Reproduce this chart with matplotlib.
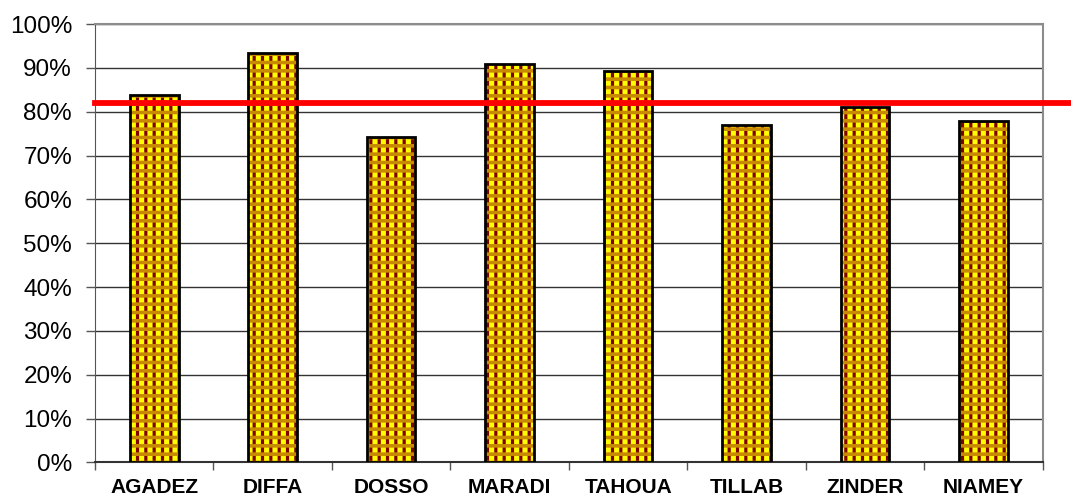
import matplotlib.pyplot as plt
import numpy as np

plt.rcParams['font.family'] = ['Liberation Sans', 'DejaVu Sans']

regions = ['AGADEZ', 'DIFFA', 'DOSSO', 'MARADI', 'TAHOUA', 'TILLAB', 'ZINDER', 'NIAMEY']
values = [83.9, 93.3, 74.2, 91.0, 89.2, 77.0, 81.0, 77.9]
national = 81.9
yticks = list(range(0, 101, 10))

fig = plt.figure(figsize=(10.71, 5.01), dpi=100)
ax = fig.add_axes([0.0887, 0.077, 0.885, 0.875])

x = np.arange(len(regions))
w = 0.41

# motif damier: fond jaune, rayures verticales bordeaux, bandes horizontales orange
plt.rcParams['hatch.linewidth'] = 2.3
ax.bar(x, values, w, color='#FFFF00', edgecolor='#800000', hatch='||', linewidth=0, zorder=2)
plt.rcParams['hatch.linewidth'] = 2.6
ax.bar(x, values, w, fill=False, edgecolor='#C88A00', hatch='--', linewidth=0, zorder=3)
ax.bar(x, values, w, fill=False, edgecolor='black', linewidth=2, zorder=4)

# ligne moyenne
ax.axhline(national, xmin=0, xmax=1.03, color='#FF0000', linewidth=4.2, clip_on=False, zorder=5)

ax.set_xlim(-0.5, len(regions) - 0.5)
ax.set_ylim(0, 100)
ax.set_yticks(yticks)
ax.set_yticklabels([f'{t}%' for t in yticks], fontsize=17.5)
ax.set_xticks(x)
ax.set_xticklabels(regions, fontsize=15, fontweight='bold')
ax.set_xticks(np.arange(len(regions) + 1) - 0.5, minor=True)
ax.tick_params(axis='x', which='major', length=0, pad=11)
ax.tick_params(axis='x', which='minor', length=6, color='#555555', width=1)
ax.tick_params(axis='y', length=6.5, width=1, color='#555555', pad=10)

ax.grid(axis='y', color='#333333', linewidth=1, zorder=1)
ax.set_axisbelow(True)
for side in ['top', 'right']:
    ax.spines[side].set_color('#8c8c8c')
    ax.spines[side].set_linewidth(1.5)
ax.spines['left'].set_color('#555555')
ax.spines['bottom'].set_color('#333333')
ax.spines['bottom'].set_linewidth(1.5)

plt.savefig('out.png', dpi=100)
